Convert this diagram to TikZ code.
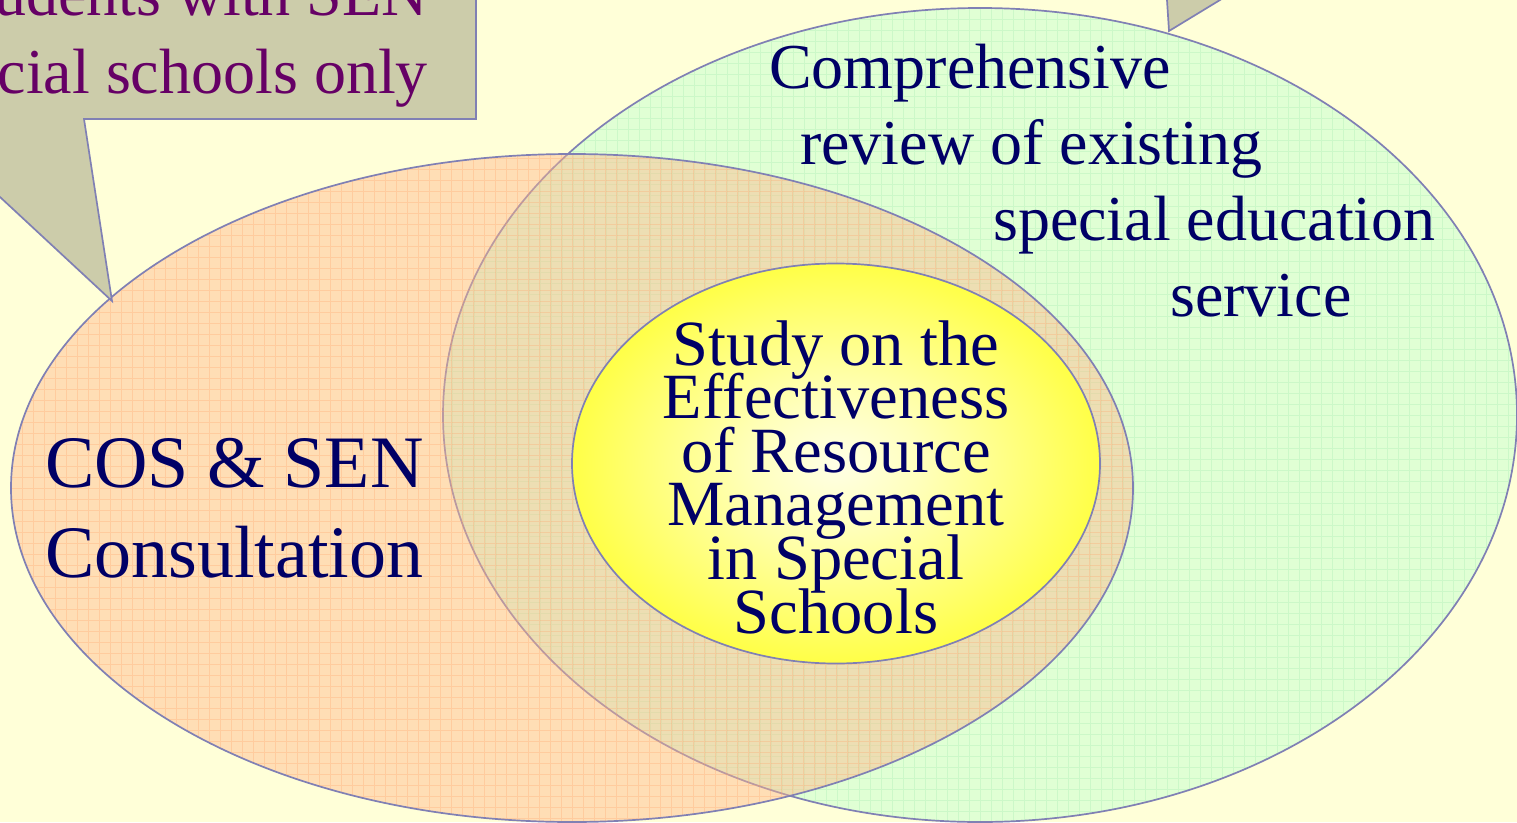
\documentclass[tikz,border=0pt]{standalone}
\usepackage{fontspec}
\setmainfont{Liberation Serif}
\usetikzlibrary{shapes.geometric}

\definecolor{paper}{HTML}{FFFFD8}
\definecolor{rimblue}{HTML}{8080B4}
\definecolor{mintfill}{HTML}{E0FFD4}
\definecolor{mintgrid}{HTML}{CCF8C8}
\definecolor{peach}{RGB}{255,184,140}
\definecolor{peachgrid}{RGB}{255,160,100}
\definecolor{sage}{HTML}{CCCCAA}
\definecolor{navy}{HTML}{000066}
\definecolor{plum}{HTML}{660066}
\definecolor{corepale}{HTML}{FFFFE6}
\definecolor{corelight}{HTML}{FFFFBC}
\definecolor{coremid}{HTML}{FFFF40}
\definecolor{coreyellow}{HTML}{FFFF10}

\pgfdeclareradialshading{coreglow}{\pgfpoint{0bp}{0bp}}{%
  color(0bp)=(corepale); color(8bp)=(corelight);
  color(26bp)=(coremid); color(40bp)=(coreyellow); color(50bp)=(coreyellow)}

\tikzset{
  rim/.style={draw=rimblue, line width=1.7pt},
  blob/.style={ellipse, inner sep=0pt, outer sep=0pt, rim},
  mintgridded/.style={path picture={
      \draw[mintgrid, line width=0.8pt, step=11pt]
        (path picture bounding box.south west) grid
        (path picture bounding box.north east);}},
  peachgridded/.style={path picture={
      \draw[peachgrid, draw opacity=0.28, line width=0.8pt, step=11pt]
        (path picture bounding box.south west) grid
        (path picture bounding box.north east);}},
  callout/.style={fill=sage, draw=rimblue, line width=1.7pt, line join=miter},
  bigtext/.style={inner sep=0pt, text=navy, font=\fontsize{74}{90}\selectfont},
  reviewtext/.style={inner sep=0pt, text=navy, font=\fontsize{64}{76}\selectfont},
  coretext/.style={inner sep=0pt, text=navy, font=\fontsize{64.5}{53}\selectfont},
  calltext/.style={inner sep=0pt, text=plum, font=\fontsize{64}{76}\selectfont},
}

\begin{document}
\begin{tikzpicture}[x=1pt, y=-1pt]
  \useasboundingbox (0,0) rectangle (1517,822);
  \clip (0,0) rectangle (1517,822);
  \fill[paper] (0,0) rectangle (1517,822);

  % review circle (green)
  \node[blob, fill=mintfill, mintgridded,
        minimum width=1074pt, minimum height=814pt] (review) at (980,415) {};

  % consultation circle (peach, translucent over the green one)
  \node[blob, fill=peach, fill opacity=0.45, peachgridded,
        minimum width=1122pt, minimum height=668pt] (consult) at (572,488) {};

  % study core (yellow glow)
  \node[blob, shading=coreglow,
        minimum width=528pt, minimum height=400pt] (core) at (836,463.5) {};

  % callout pointing at the consultation circle
  \coordinate (tipA) at (112,301);
  \draw[callout] (476,-60) -- (476,119) -- (84,119) -- (tipA)
        -- (-84,119) -- (-100,119) -- (-100,-60) -- cycle;
  \node[calltext, anchor=base east] (callA1) at (428,15) {udents with SEN};
  \node[calltext, anchor=base east] (callA2) at (428,93) {cial schools only};

  % callout pointing at the review circle
  \coordinate (tipB) at (1169,31);
  \draw[callout] (1164.4,-40) -- (tipB) -- (1285.8,-40) -- cycle;

  % labels
  \node[bigtext, anchor=base west] (cos1) at (45,487) {COS \& SEN};
  \node[bigtext, anchor=base west] (cos2) at (45,577) {Consultation};

  \node[reviewtext, anchor=base west] (rev1) at (769,88) {Comprehensive};
  \node[reviewtext, anchor=base west] (rev2) at (800,164) {review of existing};
  \node[reviewtext, anchor=base west] (rev3) at (993,240) {special education};
  \node[reviewtext, anchor=base west] (rev4) at (1170,316) {service};

  \foreach \ln [count=\i] in {Study on the, Effectiveness, of Resource,
                              Management, in Special, Schools}
    \node[coretext, anchor=base] (core\i) at (836,{365+53.6*(\i-1)}) {\ln};
\end{tikzpicture}
\end{document}
